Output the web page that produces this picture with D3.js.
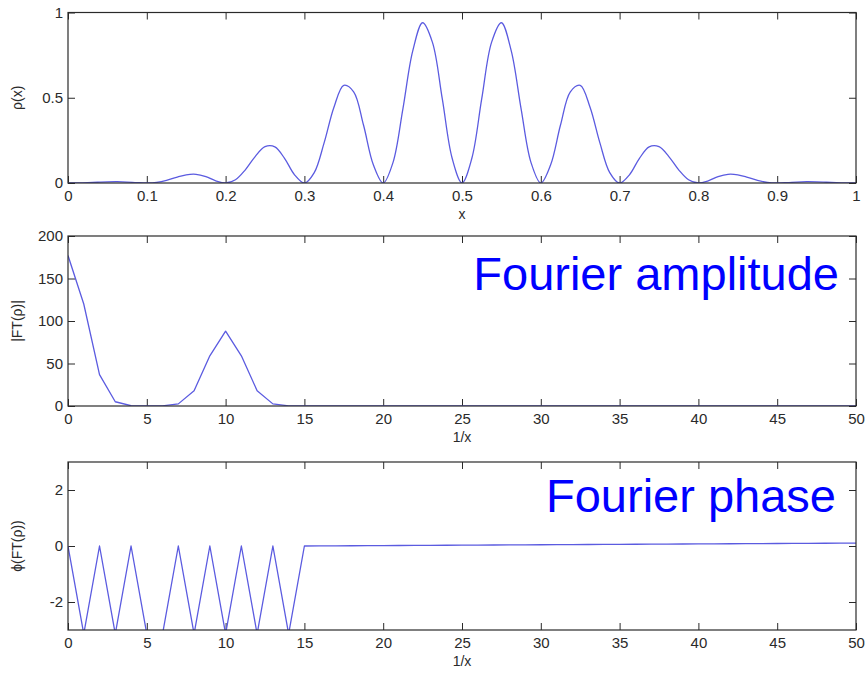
<!DOCTYPE html>
<html>
<head>
<meta charset="utf-8">
<script src="https://cdn.jsdelivr.net/npm/d3@7"></script>
<style>
  html, body { margin: 0; padding: 0; background: #fff; }
  svg { display: block; }
  text { font-family: "Liberation Sans", Arial, Helvetica, sans-serif; }
</style>
</head>
<body>
<svg id="chart" width="868" height="679"></svg>
<script>
// Density profile rho(x), sampled every 0.0125 on [0, 1]
const rhoX = d3.range(81).map(i => i * 0.0125);
const rhoValues = [
  0, 0.0004, 0.0019, 0.0043, 0.0067, 0.0075, 0.0057, 0.0022,
  0, 0.0035, 0.015, 0.033, 0.048, 0.051, 0.037, 0.013,
  0, 0.019, 0.077, 0.155, 0.213, 0.212, 0.143, 0.048,
  0, 0.061, 0.235, 0.444, 0.573, 0.535, 0.340, 0.107,
  0, 0.121, 0.435, 0.775, 0.940, 0.825, 0.493, 0.145,
  0,
  0.145, 0.493, 0.825, 0.940, 0.775, 0.435, 0.121, 0,
  0.107, 0.340, 0.535, 0.573, 0.444, 0.235, 0.061, 0,
  0.048, 0.143, 0.212, 0.213, 0.155, 0.077, 0.019, 0,
  0.013, 0.037, 0.051, 0.048, 0.033, 0.015, 0.0035, 0,
  0.0022, 0.0057, 0.0075, 0.0067, 0.0043, 0.0019, 0.0004, 0
];

// Spatial frequencies 0..50
const freq = d3.range(51);
const amplitude = [
  177, 120, 37, 5, 0.3, 0, 0.2, 2.5, 18, 59, 88, 59, 18, 2.5, 0.2, 0,
  0, 0, 0, 0, 0, 0, 0, 0, 0, 0, 0, 0, 0, 0, 0, 0, 0, 0, 0, 0,
  0, 0, 0, 0, 0, 0, 0, 0, 0, 0, 0, 0, 0, 0, 0
];
const phase = [
  0, -3.14, 0, -3.14, 0, -3.14, -3.14, 0, -3.14, 0, -3.14, 0, -3.14, 0, -3.14, 0,
  0.003, 0.006, 0.009, 0.012, 0.015, 0.018, 0.021, 0.024, 0.027, 0.03,
  0.033, 0.036, 0.039, 0.042, 0.045, 0.048, 0.051, 0.054, 0.057, 0.06,
  0.063, 0.066, 0.069, 0.072, 0.075, 0.078, 0.081, 0.084, 0.087, 0.09,
  0.093, 0.096, 0.099, 0.102, 0.105
];

// Tick values
const xTicksTop = [0, 0.1, 0.2, 0.3, 0.4, 0.5, 0.6, 0.7, 0.8, 0.9, 1];
const xTicksFreq = [0, 5, 10, 15, 20, 25, 30, 35, 40, 45, 50];
const yTicksRho = [0, 0.5, 1];
const yTicksAmp = [0, 50, 100, 150, 200];
const yTicksPhase = [-2, 0, 2];

const svg = d3.select("#chart");
svg.append("rect").attr("width", 868).attr("height", 679).attr("fill", "#fff");

const LEFT = 68, RIGHT = 856;
const LINE = "#5b5be0";
const INK = "#2a2a2a";
const TICK = 7;
let clipId = 0;

function panel(opts) {
  const x = d3.scaleLinear().domain(opts.xDomain).range([LEFT, RIGHT]);
  const y = d3.scaleLinear().domain(opts.yDomain).range([opts.bottom, opts.top]);
  const g = svg.append("g");

  const fmt = d => String(d);

  // bottom axis with labels, ticks pointing inward
  const ax = g.append("g").attr("transform", `translate(0,${opts.bottom})`)
    .call(d3.axisBottom(x).tickValues(opts.xTicks).tickFormat(fmt)
      .tickSizeInner(-TICK).tickSizeOuter(0).tickPadding(7));
  // top axis, ticks only
  const axTop = g.append("g").attr("transform", `translate(0,${opts.top})`)
    .call(d3.axisTop(x).tickValues(opts.xTicks).tickFormat("")
      .tickSizeInner(-TICK).tickSizeOuter(0));
  // left axis with labels
  const ay = g.append("g").attr("transform", `translate(${LEFT},0)`)
    .call(d3.axisLeft(y).tickValues(opts.yTicks).tickFormat(fmt)
      .tickSizeInner(-TICK).tickSizeOuter(0).tickPadding(5));
  // right axis, ticks only
  const ayR = g.append("g").attr("transform", `translate(${RIGHT},0)`)
    .call(d3.axisRight(y).tickValues(opts.yTicks).tickFormat("")
      .tickSizeInner(-TICK).tickSizeOuter(0));

  [ax, axTop, ay, ayR].forEach(a => {
    a.select(".domain").remove();
    a.selectAll(".tick line").attr("stroke", INK).attr("stroke-width", 1);
    a.selectAll(".tick text").attr("fill", INK).attr("font-size", 15);
  });

  // clipped data line
  const id = "clip" + (clipId++);
  g.append("clipPath").attr("id", id).append("rect")
    .attr("x", LEFT).attr("y", opts.top)
    .attr("width", RIGHT - LEFT).attr("height", opts.bottom - opts.top);

  const line = d3.line()
    .x((d, i) => x(opts.xs[i]))
    .y(d => y(d))
    .curve(opts.curve || d3.curveLinear);

  g.append("path")
    .attr("clip-path", `url(#${id})`)
    .attr("d", line(opts.ys))
    .attr("fill", "none")
    .attr("stroke", LINE)
    .attr("stroke-width", 1.3)
    .attr("stroke-linejoin", "round");

  // axes box
  g.append("rect")
    .attr("x", LEFT).attr("y", opts.top)
    .attr("width", RIGHT - LEFT).attr("height", opts.bottom - opts.top)
    .attr("fill", "none").attr("stroke", INK).attr("stroke-width", 1.2);

  // axis titles
  g.append("text")
    .attr("x", (LEFT + RIGHT) / 2).attr("y", opts.bottom + 36)
    .attr("text-anchor", "middle").attr("font-size", 14).attr("fill", INK)
    .text(opts.xLabel);
  g.append("text")
    .attr("transform", `translate(22,${(opts.top + opts.bottom) / 2}) rotate(-90)`)
    .attr("text-anchor", "middle").attr("font-size", 14).attr("fill", INK)
    .text(opts.yLabel);

  if (opts.title) {
    g.append("text")
      .attr("x", opts.title.x).attr("y", opts.title.y)
      .attr("text-anchor", "end").attr("font-size", 47).attr("fill", "#0000ff")
      .text(opts.title.text);
  }
}

panel({
  top: 12.5, bottom: 183,
  xDomain: [0, 1], yDomain: [0, 1],
  xTicks: xTicksTop, yTicks: yTicksRho,
  xs: rhoX, ys: rhoValues, curve: d3.curveCatmullRom.alpha(0.5),
  xLabel: "x", yLabel: "ρ(x)"
});

panel({
  top: 236, bottom: 406,
  xDomain: [0, 50], yDomain: [0, 200],
  xTicks: xTicksFreq, yTicks: yTicksAmp,
  xs: freq, ys: amplitude,
  xLabel: "1/x", yLabel: "|FT(ρ)|",
  title: { text: "Fourier amplitude", x: 839, y: 290 }
});

panel({
  top: 462, bottom: 630,
  xDomain: [0, 50], yDomain: [-3, 3],
  xTicks: xTicksFreq, yTicks: yTicksPhase,
  xs: freq, ys: phase,
  xLabel: "1/x", yLabel: "ϕ(FT(ρ))",
  title: { text: "Fourier phase", x: 836, y: 512 }
});
</script>
</body>
</html>
